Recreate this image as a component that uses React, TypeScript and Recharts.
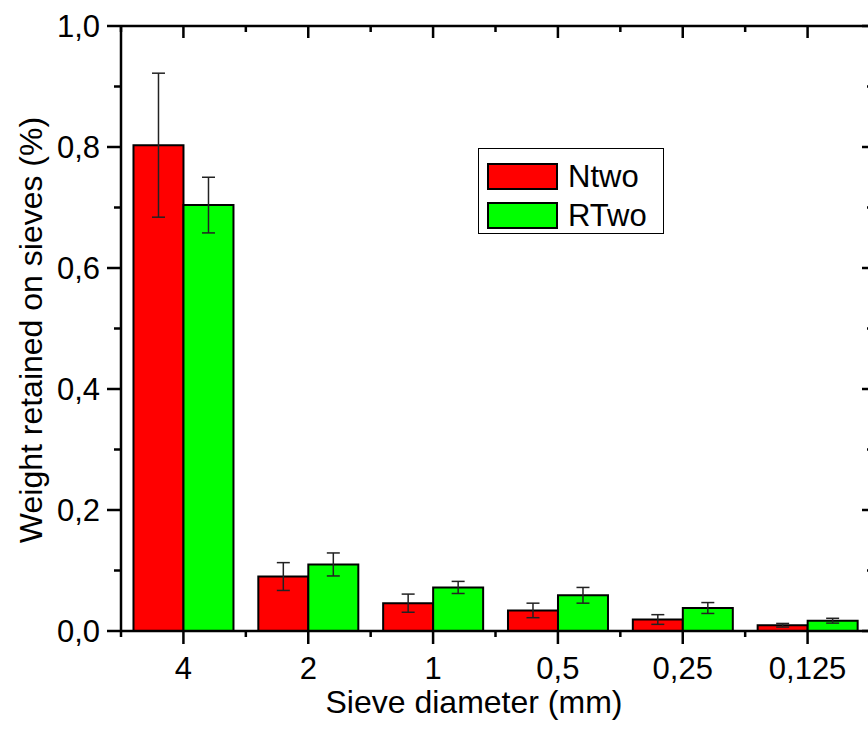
import React from "react"
import { BarChart, Bar, XAxis, YAxis, ErrorBar, Label } from "recharts"

const sizes = ["4", "2", "1", "0,5", "0,25", "0,125"]
const ntwo = [0.803, 0.09, 0.046, 0.034, 0.019, 0.0095]
const ntwoErr = [0.119, 0.023, 0.015, 0.012, 0.008, 0.003]
const rtwo = [0.704, 0.11, 0.072, 0.059, 0.038, 0.017]
const rtwoErr = [0.046, 0.019, 0.01, 0.013, 0.009, 0.004]
const yTicks = [0, 0.1, 0.2, 0.3, 0.4, 0.5, 0.6, 0.7, 0.8, 0.9, 1.0]
const series = [
   { name: "Ntwo", color: "#ff0000" },
   { name: "RTwo", color: "#00ff00" },
]

const data = sizes.map((size, i) => ({
   size,
   Ntwo: ntwo[i],
   nErr: ntwoErr[i],
   RTwo: rtwo[i],
   rErr: rtwoErr[i],
}))

const FONT = "'Liberation Sans', Arial, sans-serif"
const CHART_W = 875
const CHART_H = 735
const LEFT_W = 121
const RIGHT_W = 5
const BOTTOM_H = 104
const TOP = 26
const PLOT_RIGHT = CHART_W - RIGHT_W
const BAND = (CHART_W - LEFT_W - RIGHT_W) / sizes.length
const TS = 14
const TM = 7

const isMajor = (v: number) => Math.round(v * 10) % 2 === 0
const fmt = (v: number) => v.toFixed(1).replace(".", ",")

// left ticks + labels, and the inward ticks of the right frame side
const LeftTick = (props: any) => {
   const { x, y, payload } = props
   const ax = x + TS + TM
   const major = isMajor(payload.value)
   const len = major ? 14 : 7
   return (
      <g>
         <line x1={ax} x2={ax - len} y1={y} y2={y} stroke="#000" strokeWidth={2.5} />
         <line x1={PLOT_RIGHT + 2} x2={PLOT_RIGHT + 2 - (major ? 10 : 5)} y1={y} y2={y} stroke="#000" strokeWidth={2.5} />
         {major && (
            <text x={ax - 21} y={y} textAnchor="end" dominantBaseline="central" fontSize={31} fontFamily={FONT} fill="#000">
               {fmt(payload.value)}
            </text>
         )}
      </g>
   )
}

// bottom ticks + labels, plus the inward ticks on the top side of the frame
const BottomTick = (props: any) => {
   const { x, y, payload, index } = props
   const ay = y - TS - TM
   const last = index === sizes.length - 1
   return (
      <g>
         <line x1={x} x2={x} y1={ay} y2={ay + 13} stroke="#000" strokeWidth={2.5} />
         <line x1={x - BAND / 2} x2={x - BAND / 2} y1={ay} y2={ay + 6} stroke="#000" strokeWidth={2.5} />
         {last && <line x1={x + BAND / 2} x2={x + BAND / 2} y1={ay} y2={ay + 6} stroke="#000" strokeWidth={2.5} />}
         <path d={`M${x},${TOP}V${TOP + 12}M${x - BAND / 2},${TOP}V${TOP + 6}`} stroke="#000" strokeWidth={2.5} fill="none" />
         <text x={x} y={ay + 37} textAnchor="middle" dominantBaseline="central" fontSize={31} fontFamily={FONT} fill="#000">
            {payload.value}
         </text>
      </g>
   )
}

const LegendBox = () => (
   <div
      style={{
         position: "absolute",
         left: 478,
         top: 148,
         width: 186,
         height: 86,
         border: "1.5px solid #000",
         background: "#fff",
         fontFamily: FONT,
         fontSize: 31,
         boxSizing: "border-box",
         paddingTop: 8,
         paddingLeft: 8,
      }}
   >
      {series.map((it) => (
         <div key={it.name} style={{ display: "flex", alignItems: "center", height: 38, marginBottom: 1 }}>
            <div style={{ width: 71, height: 27, background: it.color, border: "2px solid #000", boxSizing: "border-box" }} />
            <span style={{ marginLeft: 10, lineHeight: "31px" }}>{it.name}</span>
         </div>
      ))}
   </div>
)

export default function App() {
   return (
      <div style={{ position: "absolute", left: 0, top: 0, width: 868, height: CHART_H, overflow: "hidden", background: "#fff" }}>
         <BarChart
            width={CHART_W}
            height={CHART_H}
            data={data}
            margin={{ top: TOP - 1, right: 0, bottom: 0, left: 0 }}
            barCategoryGap="10%"
            barGap={0}
         >
            <XAxis
               dataKey="size"
               height={BOTTOM_H}
               axisLine={{ stroke: "#000", strokeWidth: 2.5 }}
               tickLine={false}
               tickSize={TS}
               tickMargin={TM}
               tick={<BottomTick />}
               interval={0}
            >
               <Label
                  content={() => (
                     <text x={474} y={702} textAnchor="middle" dominantBaseline="central" fontSize={32} fontFamily={FONT} fill="#000">
                        Sieve diameter (mm)
                     </text>
                  )}
               />
            </XAxis>
            <XAxis
               xAxisId="top"
               dataKey="size"
               orientation="top"
               height={1}
               axisLine={{ stroke: "#000", strokeWidth: 2.5 }}
               tickLine={false}
               tick={false}
            />
            <YAxis
               width={LEFT_W}
               domain={[0, 1]}
               ticks={yTicks}
               interval={0}
               axisLine={{ stroke: "#000", strokeWidth: 2.5 }}
               tickLine={false}
               tickSize={TS}
               tickMargin={TM}
               tick={<LeftTick />}
            >
               <Label
                  content={() => (
                     <text
                        x={31}
                        y={330}
                        transform="rotate(-90 31 330)"
                        textAnchor="middle"
                        dominantBaseline="central"
                        fontSize={32}
                        fontFamily={FONT}
                        fill="#000"
                     >
                        Weight retained on sieves (%)
                     </text>
                  )}
               />
            </YAxis>
            <YAxis
               yAxisId="right"
               orientation="right"
               width={RIGHT_W}
               domain={[0, 1]}
               axisLine={{ stroke: "#000", strokeWidth: 2.5 }}
               tickLine={false}
               tick={false}
            />
            <Bar dataKey="Ntwo" fill="#ff0000" stroke="#000" strokeWidth={2} isAnimationActive={false}>
               <ErrorBar dataKey="nErr" width={6.5} stroke="#222" strokeWidth={1.5} isAnimationActive={false} />
            </Bar>
            <Bar dataKey="RTwo" fill="#00ff00" stroke="#000" strokeWidth={2} isAnimationActive={false}>
               <ErrorBar dataKey="rErr" width={6.5} stroke="#222" strokeWidth={1.5} isAnimationActive={false} />
            </Bar>
         </BarChart>
         <LegendBox />
      </div>
   )
}
